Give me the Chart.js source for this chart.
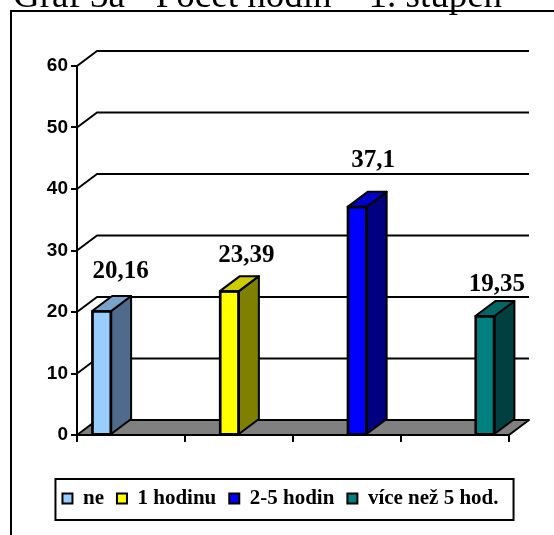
<!DOCTYPE html>
<html>
<head>
<meta charset="utf-8">
<script src="https://cdn.jsdelivr.net/npm/chart.js@4/dist/chart.umd.min.js"></script>
<style>
  html, body { margin: 0; padding: 0; background: #fff; }
  #wrap { width: 554px; height: 535px; position: relative; }
</style>
</head>
<body>
<div id="wrap"><canvas id="c" width="554" height="535"></canvas></div>
<script>
// Počet hodin – 1. stupeň (percent of pupils)
const titleText = 'Graf 3a - Počet hodin – 1. stupeň';
const categories = ['ne', '1 hodinu', '2-5 hodin', 'více než 5 hod.'];
const values = [20.16, 23.39, 37.1, 19.35];
const yTickValues = [0, 10, 20, 30, 40, 50, 60];

// face colours: front, side (shaded), top
const frontColors = ['#99ccff', '#ffff00', '#0000ff', '#008080'];
const sideColors  = ['#4f6a8b', '#808000', '#000080', '#004040'];
const topColors   = ['#7aa3cc', '#cccc00', '#0000cc', '#006666'];

// pseudo-3D depth offset
const DEPTH_X = 20, DEPTH_Y = -15;

const fmt = v => String(v).replace('.', ',');

const pageDecor = {
  id: 'pageDecor',
  beforeDraw(chart) {
    const ctx = chart.ctx;
    ctx.save();
    ctx.fillStyle = '#fff';
    ctx.fillRect(0, 0, chart.width, chart.height);
    // heading
    ctx.fillStyle = '#000';
    ctx.font = '37px "Liberation Serif", "Times New Roman", serif';
    ctx.textBaseline = 'alphabetic';
    ctx.textAlign = 'left';
    ctx.fillText(titleText, 13, 7);
    // frame
    ctx.strokeStyle = '#000';
    ctx.lineWidth = 2;
    ctx.beginPath();
    ctx.moveTo(11, chart.height + 2);
    ctx.lineTo(11, 11);
    ctx.lineTo(chart.width + 2, 11);
    ctx.stroke();
    ctx.restore();
  }
};

const walls3d = {
  id: 'walls3d',
  beforeDatasetsDraw(chart) {
    const ctx = chart.ctx;
    const y = chart.scales.y;
    const {left, right} = chart.chartArea;
    ctx.save();
    ctx.strokeStyle = '#000';
    ctx.lineWidth = 2;
    ctx.lineJoin = 'round';
    // floor
    const y0 = y.getPixelForValue(0);
    ctx.beginPath();
    ctx.moveTo(left, y0);
    ctx.lineTo(left + DEPTH_X, y0 + DEPTH_Y);
    ctx.lineTo(right + DEPTH_X, y0 + DEPTH_Y);
    ctx.lineTo(right, y0);
    ctx.closePath();
    ctx.fillStyle = '#808080';
    ctx.fill();
    ctx.stroke();
    // gridlines on the side and back walls
    y.ticks.forEach(t => {
      if (t.value === 0) return;
      const py = y.getPixelForValue(t.value);
      ctx.beginPath();
      ctx.moveTo(left, py);
      ctx.lineTo(left + DEPTH_X, py + DEPTH_Y);
      ctx.lineTo(right + DEPTH_X, py + DEPTH_Y);
      ctx.stroke();
    });
    ctx.restore();
  },
  afterDatasetsDraw(chart, args, opts) {
    const ctx = chart.ctx;
    ctx.save();
    ctx.strokeStyle = '#000';
    ctx.lineWidth = 2;
    ctx.lineJoin = 'round';
    chart.data.datasets.forEach((ds, i) => {
      const meta = chart.getDatasetMeta(i);
      meta.data.forEach(bar => {
        const {x, y, base, width} = bar.getProps(['x', 'y', 'base', 'width'], true);
        const l = x - width / 2, r = x + width / 2;
        // side face
        ctx.beginPath();
        ctx.moveTo(r, y);
        ctx.lineTo(r + DEPTH_X, y + DEPTH_Y);
        ctx.lineTo(r + DEPTH_X, base + DEPTH_Y);
        ctx.lineTo(r, base);
        ctx.closePath();
        ctx.fillStyle = sideColors[i];
        ctx.fill();
        ctx.stroke();
        // top face
        ctx.beginPath();
        ctx.moveTo(l, y);
        ctx.lineTo(l + DEPTH_X, y + DEPTH_Y);
        ctx.lineTo(r + DEPTH_X, y + DEPTH_Y);
        ctx.lineTo(r, y);
        ctx.closePath();
        ctx.fillStyle = topColors[i];
        ctx.fill();
        ctx.stroke();
        // front outline
        ctx.strokeRect(l, y, width, base - y);
        // value label
        const nudge = opts.labelNudge[i] || [16, 31];
        ctx.fillStyle = '#000';
        ctx.font = 'bold 25px "Liberation Serif", "Times New Roman", serif';
        ctx.textAlign = 'center';
        ctx.textBaseline = 'alphabetic';
        ctx.fillText(fmt(values[i]), x + nudge[0], y - nudge[1]);
      });
    });
    ctx.restore();
  }
};

const legendFrame = {
  id: 'legendFrame',
  afterDraw(chart) {
    const boxes = chart.legend && chart.legend.legendHitBoxes;
    if (!boxes || !boxes.length) return;
    const l = Math.min(...boxes.map(b => b.left)) - 7;
    const r = Math.max(...boxes.map(b => b.left + b.width)) + 15;
    const t = boxes[0].top - 9;
    const b = boxes[0].top + boxes[0].height + 11;
    const ctx = chart.ctx;
    ctx.save();
    ctx.strokeStyle = '#000';
    ctx.lineWidth = 2;
    ctx.strokeRect(l, t, r - l, b - t);
    ctx.restore();
  }
};

new Chart(document.getElementById('c'), {
  type: 'bar',
  data: {
    labels: categories,
    datasets: categories.map((name, i) => ({
      label: name,
      data: [{x: i, y: values[i]}],
      xAxisID: 'xb',
      backgroundColor: frontColors[i],
      borderColor: '#000',
      borderWidth: 2,
      barThickness: 19,
      grouped: false
    }))
  },
  options: {
    responsive: false,
    devicePixelRatio: 1,
    animation: false,
    layout: { padding: { left: 20, right: 13, top: 66, bottom: 16 } },
    scales: {
      x: {
        type: 'category',
        position: 'bottom',
        offset: true,
        ticks: { display: false },
        grid: { offset: true, drawOnChartArea: false, drawTicks: true, tickLength: 7, color: '#000', lineWidth: 2 },
        border: { display: true, color: '#000', width: 2 },
        afterFit(s) { s.height = 40; }
      },
      xb: {
        type: 'linear',
        display: false,
        offset: false,
        min: -0.1927,
        max: 3.1886
      },
      y: {
        min: 0,
        max: 60,
        afterBuildTicks(s) { s.ticks = yTickValues.map(v => ({value: v})); },
        ticks: {
          color: '#000',
          padding: 3,
          font: { family: '"Liberation Sans", Arial, sans-serif', size: 19, weight: 'bold' }
        },
        grid: { drawOnChartArea: false, drawTicks: true, tickLength: 6, color: '#000', lineWidth: 2 },
        border: { display: true, color: '#000', width: 2 },
        afterFit(s) { s.width = 57; }
      },
      // empty strip on the right that holds the receding depth of the walls
      depth: {
        type: 'linear',
        position: 'right',
        display: true,
        grid: { display: false, drawTicks: false },
        border: { display: false },
        ticks: { display: false },
        afterFit(s) { s.width = 32; }
      }
    },
    plugins: {
      legend: {
        position: 'bottom',
        labels: {
          color: '#000',
          boxWidth: 10,
          boxHeight: 10,
          padding: 13,
          font: { family: '"Liberation Serif", "Times New Roman", serif', size: 21, weight: 'bold' }
        }
      },
      tooltip: { enabled: false },
      walls3d: { labelNudge: [[19, 33], [17, 29], [16, 40], [12, 25]] }
    }
  },
  plugins: [pageDecor, walls3d, legendFrame]
});
</script>
</body>
</html>
